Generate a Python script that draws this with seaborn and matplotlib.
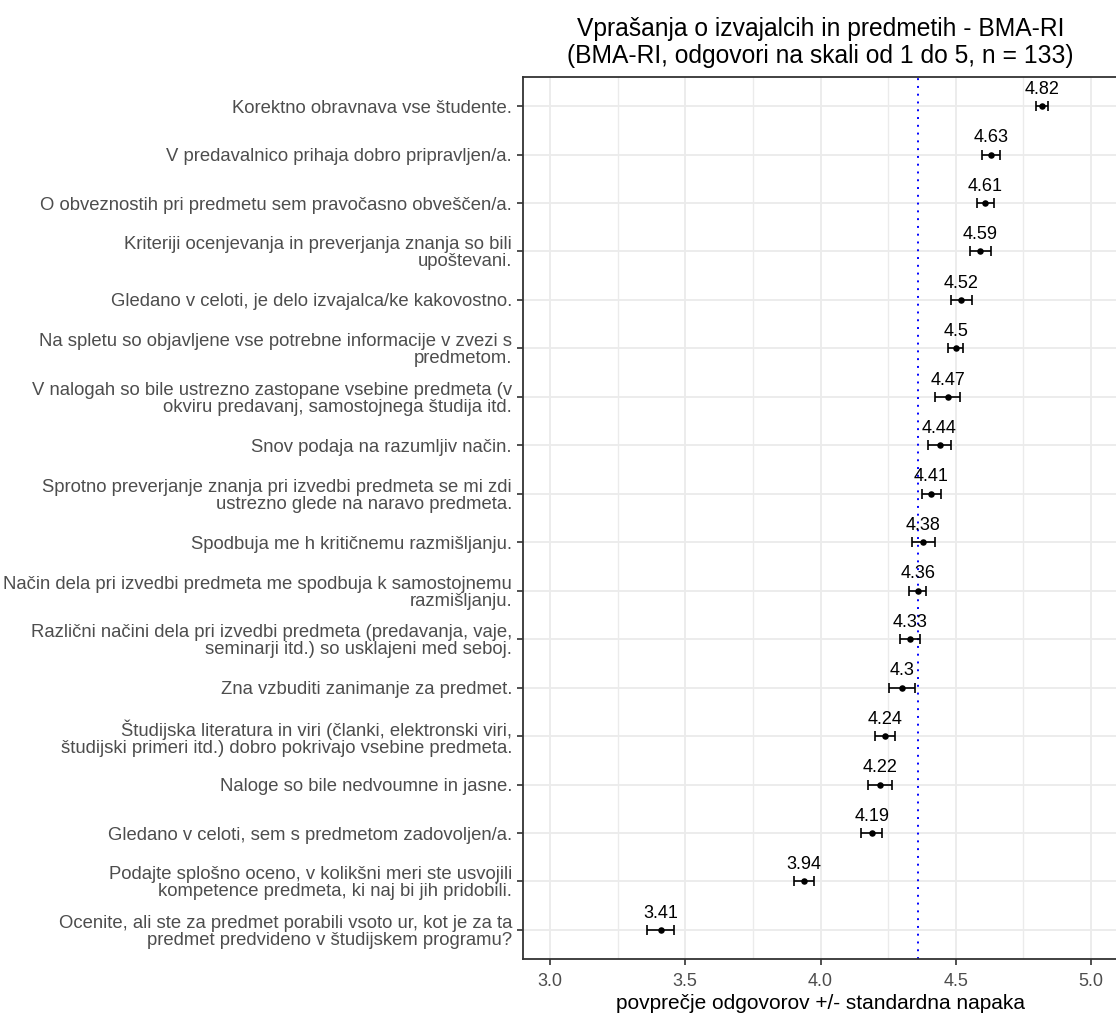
import matplotlib
matplotlib.use("Agg")
import matplotlib.pyplot as plt
import seaborn as sns
import numpy as np
import pandas as pd
from matplotlib.ticker import MultipleLocator


questions = [
    "Korektno obravnava vse študente.",
    "V predavalnico prihaja dobro pripravljen/a.",
    "O obveznostih pri predmetu sem pravočasno obveščen/a.",
    "Kriteriji ocenjevanja in preverjanja znanja so bili\nupoštevani.",
    "Gledano v celoti, je delo izvajalca/ke kakovostno.",
    "Na spletu so objavljene vse potrebne informacije v zvezi s\npredmetom.",
    "V nalogah so bile ustrezno zastopane vsebine predmeta (v\nokviru predavanj, samostojnega študija itd.",
    "Snov podaja na razumljiv način.",
    "Sprotno preverjanje znanja pri izvedbi predmeta se mi zdi\nustrezno glede na naravo predmeta.",
    "Spodbuja me h kritičnemu razmišljanju.",
    "Način dela pri izvedbi predmeta me spodbuja k samostojnemu\nrazmišljanju.",
    "Različni načini dela pri izvedbi predmeta (predavanja, vaje,\nseminarji itd.) so usklajeni med seboj.",
    "Zna vzbuditi zanimanje za predmet.",
    "Študijska literatura in viri (članki, elektronski viri,\nštudijski primeri itd.) dobro pokrivajo vsebine predmeta.",
    "Naloge so bile nedvoumne in jasne.",
    "Gledano v celoti, sem s predmetom zadovoljen/a.",
    "Podajte splošno oceno, v kolikšni meri ste usvojili\nkompetence predmeta, ki naj bi jih pridobili.",
    "Ocenite, ali ste za predmet porabili vsoto ur, kot je za ta\npredmet predvideno v študijskem programu?",
]

means = [4.82, 4.63, 4.61, 4.59, 4.52, 4.5, 4.47, 4.44, 4.41,
         4.38, 4.36, 4.33, 4.3, 4.24, 4.22, 4.19, 3.94, 3.41]

std_err = [0.022, 0.033, 0.033, 0.039, 0.039, 0.028, 0.046, 0.041, 0.035,
           0.043, 0.031, 0.037, 0.048, 0.037, 0.044, 0.039, 0.037, 0.05]

overall = 4.36

x_ticks = [3.0, 3.5, 4.0, 4.5, 5.0]

title = ("Vprašanja o izvajalcih in predmetih - BMA-RI\n"
         "(BMA-RI, odgovori na skali od 1 do 5, n = 133)")
x_label = "povprečje odgovorov +/- standardna napaka"


df = pd.DataFrame({"question": questions, "mean": means, "se": std_err})
df["pos"] = np.arange(len(df))

sns.set_theme(style="whitegrid")
plt.rcParams["font.family"] = ["Liberation Sans", "DejaVu Sans"]

fig = plt.figure(figsize=(11.16, 10.16), dpi=100)
ax = fig.add_axes([523 / 1116, 57 / 1016, 595 / 1116, 882 / 1016])
ax.set_facecolor("white")

# reference line (overall mean)
ax.axvline(overall, color="#0000ff", linestyle=(0, (1, 3)), linewidth=1.4, zorder=1)

ax.errorbar(df["mean"], df["pos"], xerr=df["se"], fmt="none",
            ecolor="black", elinewidth=1.2, capsize=3.5, capthick=1.2, zorder=3)
sns.scatterplot(data=df, x="mean", y="pos", color="black", s=22,
                edgecolor="black", linewidth=0, ax=ax, zorder=4)

for _, row in df.iterrows():
    ax.annotate(f"{row['mean']:g}", (row["mean"], row["pos"]),
                xytext=(0, 6), textcoords="offset points",
                ha="center", va="bottom", fontsize=13, color="black")

ax.set_xlim(2.9, 5.1)
ax.set_ylim(len(df) - 0.4, -0.6)
ax.set_xticks(x_ticks)
ax.set_xticklabels([f"{t:.1f}" for t in x_ticks])
ax.xaxis.set_minor_locator(MultipleLocator(0.25))
ax.set_yticks(df["pos"])
ax.set_yticklabels(df["question"], ha="right", multialignment="right",
                   linespacing=1.0)

ax.grid(True, which="major", color="#ebebeb", linewidth=1.3)
ax.grid(True, which="minor", axis="x", color="#ebebeb", linewidth=1.0)
ax.set_axisbelow(True)

for side in ["left", "bottom", "top", "right"]:
    ax.spines[side].set_color("#333333")
    ax.spines[side].set_linewidth(1.3)

ax.tick_params(axis="both", which="major", length=4, width=1.2, color="#333333",
               labelcolor="#4d4d4d", labelsize=13, pad=4, left=True, bottom=True)
ax.tick_params(axis="y", labelsize=13.3)
ax.tick_params(axis="x", pad=6)
ax.tick_params(which="minor", length=0)

ax.set_xlabel(x_label, fontsize=15, color="black", labelpad=3)
ax.set_ylabel("")
ax.set_title(title, fontsize=17.7, color="black", linespacing=1.15, pad=10)

fig.savefig("out.png", dpi=100)
